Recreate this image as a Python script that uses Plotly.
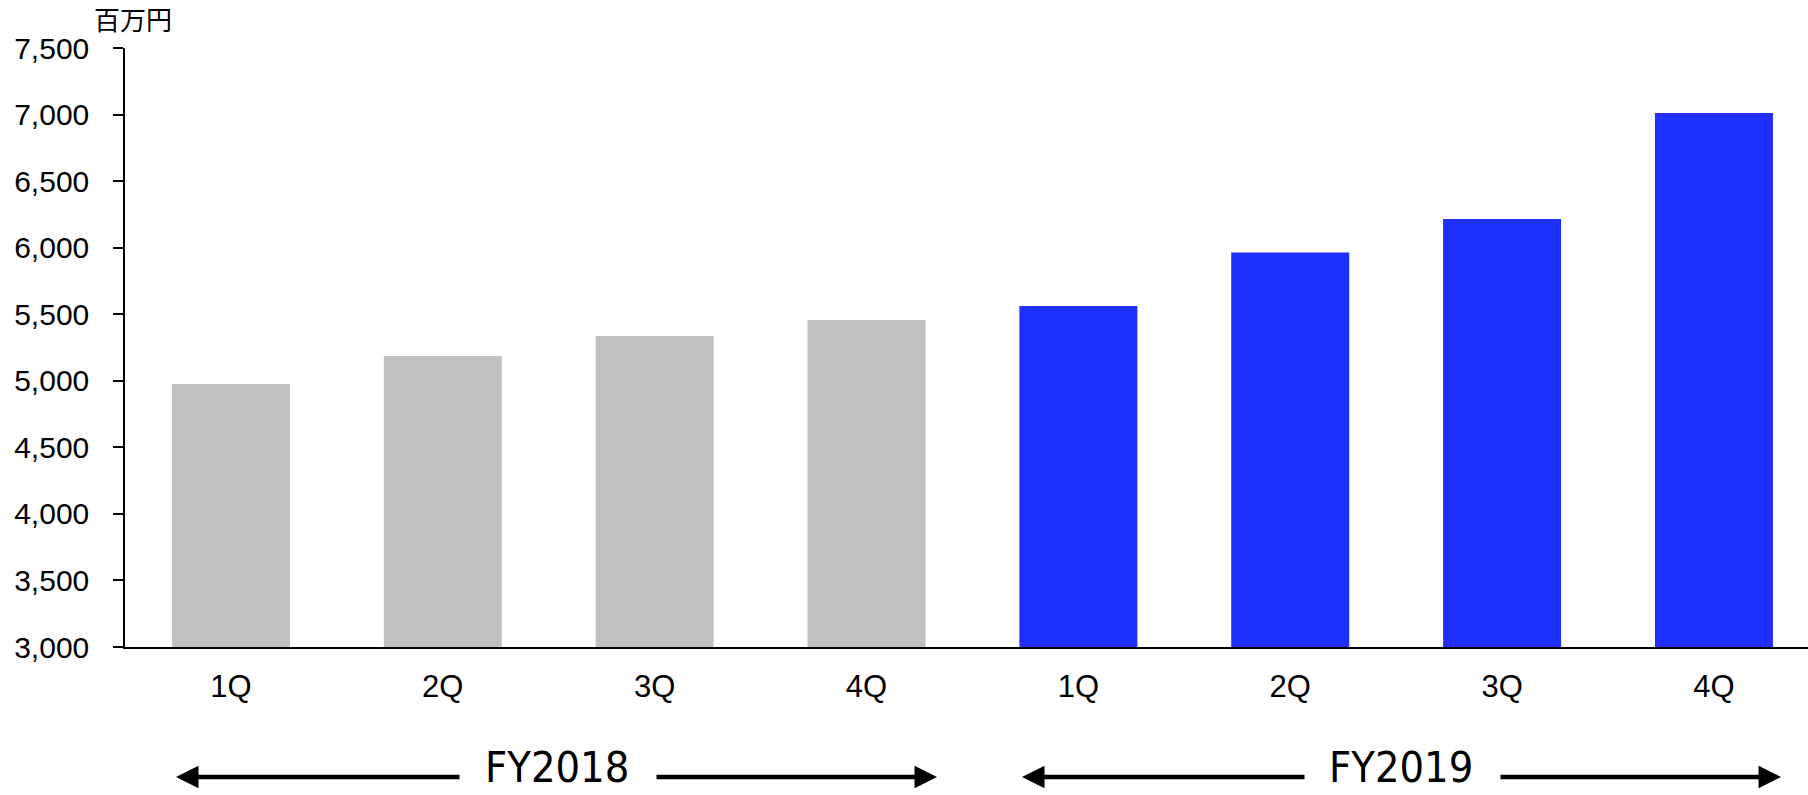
import plotly.graph_objects as go

categories = ["1Q", "2Q", "3Q", "4Q", "1Q ", "2Q ", "3Q ", "4Q "]
tick_text = ["1Q", "2Q", "3Q", "4Q", "1Q", "2Q", "3Q", "4Q"]
values = [4976, 5186, 5336, 5457, 5562, 5964, 6215, 7012]
fy_labels = ["FY2018", "FY2019"]
unit_label = "百万円"

GRAY = "#C0C0C0"
BLUE = "#1F2FFE"
colors = [GRAY] * 4 + [BLUE] * 4

W, H = 1808, 795
L, R, T, B = 125, 0, 48, 148
pw = W - L - R
ph = H - T - B

def px_x(x):
    return (x - L) / pw

def px_y(y):
    return (H - B - y) / ph

fig = go.Figure()
fig.add_trace(go.Bar(
    x=list(range(len(values))),
    y=values,
    marker=dict(color=colors, line=dict(width=0)),
    width=0.557,
    hoverinfo="skip",
))

cat_w = 211.86
xmax = -0.5 + pw / cat_w

fig.update_layout(
    width=W, height=H,
    margin=dict(l=L, r=R, t=T, b=B, pad=0),
    paper_bgcolor="white", plot_bgcolor="white",
    showlegend=False,
    font=dict(family="Liberation Sans, Arial, sans-serif", color="black"),
    xaxis=dict(
        range=[-0.5, xmax],
        tickmode="array",
        tickvals=list(range(len(values))),
        ticktext=tick_text,
        showline=True, linecolor="black", linewidth=1.5,
        showgrid=False, zeroline=False,
        ticks="",
        tickfont=dict(size=31, family="Liberation Sans, Arial, sans-serif"),
        ticklabelstandoff=11,
    ),
    yaxis=dict(
        range=[3000, 7500],
        tickmode="array",
        tickvals=[3000, 3500, 4000, 4500, 5000, 5500, 6000, 6500, 7000, 7500],
        ticktext=["3,000", "3,500", "4,000", "4,500", "5,000", "5,500",
                  "6,000", "6,500", "7,000", "7,500"],
        showline=True, linecolor="black", linewidth=1.5,
        showgrid=False, zeroline=False,
        ticks="outside", ticklen=10, tickwidth=1.5, tickcolor="black",
        tickfont=dict(size=30, family="Liberation Sans, Arial, sans-serif"),
        ticklabelstandoff=18,
    ),
)

annotations = [
    dict(x=px_x(133), y=px_y(19), xref="paper", yref="paper",
         text=unit_label, showarrow=False,
         font=dict(size=26, family="Noto Sans CJK JP", color="black"),
         xanchor="center", yanchor="middle"),
    dict(x=px_x(557), y=px_y(767), xref="paper", yref="paper",
         text=fy_labels[0], showarrow=False,
         font=dict(size=43, family="DejaVu Sans Condensed, sans-serif", color="black"),
         xanchor="center", yanchor="middle"),
    dict(x=px_x(1401), y=px_y(767), xref="paper", yref="paper",
         text=fy_labels[1], showarrow=False,
         font=dict(size=43, family="DejaVu Sans Condensed, sans-serif", color="black"),
         xanchor="center", yanchor="middle"),
]

arrow_y = 777
arrows = [(176, 461), (937, 655), (1022, 1306), (1781, 1499)]
for head, tail in arrows:
    annotations.append(dict(
        x=px_x(head), y=px_y(arrow_y), xref="paper", yref="paper",
        ax=tail - head, ay=0, text="", showarrow=True,
        arrowhead=2, arrowsize=1.0, arrowwidth=4.5, arrowcolor="black",
        standoff=0, startstandoff=0,
    ))

fig.update_layout(annotations=annotations)
fig.write_html("out.html")
